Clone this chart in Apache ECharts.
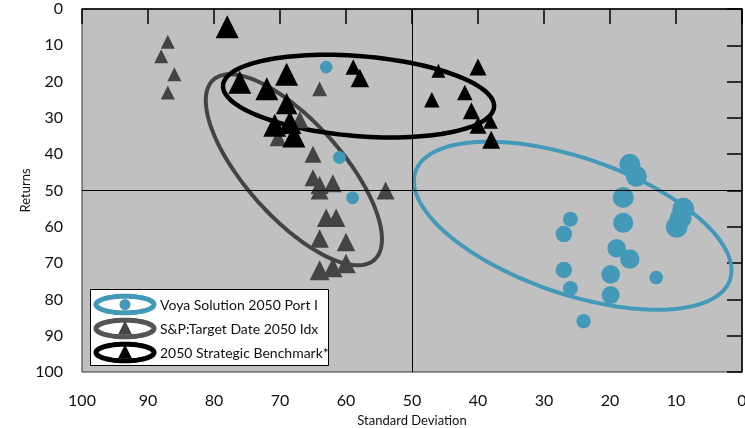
<!DOCTYPE html>
<html><head><meta charset="utf-8">
<script src="https://cdn.jsdelivr.net/npm/echarts@6/dist/echarts.min.js"></script>
<style>html,body{margin:0;padding:0;background:#fff}#c{width:745px;height:428px}</style>
</head><body><div id="c"></div>
<script>
// Series names (legend text)
const seriesNames = ['Voya Solution 2050 Port I', 'S&P:Target Date 2050 Idx', '2050 Strategic Benchmark*'];
const xAxisName = 'Standard Deviation';
const yAxisName = 'Returns';
const tickValues = [0, 10, 20, 30, 40, 50, 60, 70, 80, 90, 100];

// [standard deviation, returns, relative weight]
const voya = [
  [17.0, 42.8, 4], [16.0, 46.1, 4], [18.0, 51.9, 4], [18.0, 58.9, 3.7],
  [8.9, 55.0, 4.2], [9.3, 57.6, 4.2], [9.9, 60.0, 4.2],
  [26.0, 57.9, 2], [27.0, 62.0, 2.5], [19.0, 65.9, 3.2], [17.0, 68.9, 3.5],
  [27.0, 71.9, 2.5], [19.9, 73.1, 3.2], [13.0, 74.0, 1.5], [26.0, 77.0, 2],
  [19.9, 78.8, 3], [24.0, 86.0, 1.8],
  [63.0, 16.0, 1.2], [61.0, 40.9, 1.3], [59.0, 52.0, 1.3]
];
const spIdx = [
  [87, 9, 1], [88, 13, 1], [86, 18, 1], [87, 23, 1],
  [64, 22, 1.3], [67, 30.5, 2], [70.3, 35.5, 2],
  [65, 40, 2], [65, 46.5, 2], [64, 48.5, 2.3], [62, 48, 2.3], [64, 50, 2.3],
  [54, 50, 2.3], [63, 57.5, 2.5], [61.5, 57.5, 2.5],
  [64, 63.2, 2.5], [60, 64.2, 2.5],
  [64, 72, 3], [62, 71.2, 2.8], [60, 70.1, 2.8]
];
const bench = [
  [78, 4.9, 4], [76.1, 20.2, 4], [69, 18, 4], [72, 22, 4], [69, 26, 3.5],
  [70.8, 32, 4], [68.5, 31.3, 4], [67.9, 35, 4],
  [58.9, 16, 1.5], [57.9, 19, 2.5], [46, 17, 1], [40, 16, 2],
  [47, 25, 1.5], [42, 23, 1.5], [41, 28, 2], [40, 32, 2], [38.1, 31, 1.2], [38, 36, 2.3]
];
// Group ellipses: [center x, center y, semi-axis a (x units), semi-axis b (x units), screen angle deg]
const voyaEllipse = [[25.65, 59.7, 25.2, 10.3, 19]];
const spEllipse = [[67.9, 44.3, 18.3, 7.27, 48.2]];
const benchEllipse = [[58.1, 24.0, 20.6, 6.06, 4.6]];

const TEAL = '#4499b9', GRAY = '#444444', BLACK = '#000000';
const FONT = 'Lato, "Open Sans", sans-serif';

function ellipsePts(cx, cy, a, b, deg, n) {
  const t0 = deg * Math.PI / 180, c = Math.cos(t0), s = Math.sin(t0), pts = [];
  for (let i = 0; i < n; i++) {
    const t = i / n * Math.PI * 2;
    const ex = a * Math.cos(t), ey = b * Math.sin(t);
    pts.push([cx + ex * c - ey * s, cy + ex * s + ey * c]);
  }
  return pts;
}
function ellipseSeries(data, color, width, z) {
  return {
    type: 'custom', data: data, z: z, silent: true,
    renderItem: function (params, api) {
      const c = api.coord([api.value(0), api.value(1)]);
      const a = Math.abs(api.size([api.value(2), 0])[0]);
      const b = Math.abs(api.size([api.value(3), 0])[0]);
      return {
        type: 'polygon',
        shape: { points: ellipsePts(c[0], c[1], a, b, api.value(4), 120) },
        style: { fill: 'none', stroke: color, lineWidth: width }
      };
    }
  };
}

const chart = echarts.init(document.getElementById('c'), null, { renderer: 'canvas' });

const legendRows = [
  { y: 304.5, color: TEAL, mark: 'circle', mcolor: TEAL, ty: 305.5 },
  { y: 328.5, color: '#555555', mark: 'tri', mcolor: GRAY, ty: 329.5 },
  { y: 352.5, color: BLACK, mark: 'tri', mcolor: BLACK, ty: 353.5 }
];
const graphics = [{
  type: 'rect', z: 100, shape: { x: 90.5, y: 289.5, width: 238, height: 76 },
  style: { fill: '#ffffff', stroke: '#000', lineWidth: 1 }
}];
legendRows.forEach(function (r, i) {
  graphics.push({
    type: 'polygon', z: 101, shape: { points: ellipsePts(125, r.y, 29, 8.3, 0, 80) },
    style: { fill: 'none', stroke: r.color, lineWidth: 5 }
  });
  if (r.mark === 'circle') {
    graphics.push({ type: 'circle', z: 102, shape: { cx: 125, cy: r.y, r: 5.5 }, style: { fill: r.mcolor } });
  } else {
    graphics.push({ type: 'polygon', z: 102, shape: { points: [[125, r.y - 8], [132, r.y + 6], [118, r.y + 6]] }, style: { fill: r.mcolor } });
  }
  graphics.push({
    type: 'text', z: 103, x: 160, y: r.ty,
    style: { text: seriesNames[i], fill: '#111', font: '14px ' + FONT, textVerticalAlign: 'middle', verticalAlign: 'middle' }
  });
});

function circleSize(v) { return 9 + 3 * v[2]; }
function triSize(v) { return 11 + 3 * v[2]; }

const axisCommon = {
  type: 'value', min: 0, max: 100, interval: 10, inverse: true,
  axisLine: { show: true, lineStyle: { color: '#000', width: 1.5 } },
  axisTick: { show: true, inside: false, length: 15, lineStyle: { color: '#000', width: 1.5 } },
  splitLine: { show: false },
  nameLocation: 'middle',
  nameMoveOverlap: false,
  nameTextStyle: { fontSize: 13, color: '#111', fontFamily: FONT }
};

chart.setOption({
  animation: false,
  backgroundColor: '#ffffff',
  textStyle: { fontFamily: FONT },
  grid: { left: 82, right: 3, top: 9, bottom: 56, containLabel: false, outerBoundsMode: 'none', show: true, backgroundColor: '#c0c0c0', borderColor: '#333', borderWidth: 1 },
  xAxis: Object.assign({}, axisCommon, {
    name: xAxisName, nameGap: 42,
    axisLabel: { fontSize: 16, color: '#111', margin: 21, fontFamily: FONT }
  }),
  yAxis: Object.assign({}, axisCommon, {
    name: yAxisName, nameGap: 50, nameRotate: 90,
    axisLabel: { fontSize: 16, color: '#111', margin: 19, fontFamily: FONT }
  }),
  graphic: graphics,
  series: [
    ellipseSeries(spEllipse, GRAY, 4, 1),
    ellipseSeries(benchEllipse, BLACK, 4.5, 2),
    ellipseSeries(voyaEllipse, TEAL, 4, 2),
    { name: seriesNames[1], type: 'scatter', data: spIdx, symbol: 'triangle', symbolSize: triSize, itemStyle: { color: GRAY, opacity: 1 }, z: 3 },
    { name: seriesNames[0], type: 'scatter', data: voya, symbol: 'circle', symbolSize: circleSize, itemStyle: { color: TEAL, opacity: 1 }, z: 4 },
    { name: seriesNames[2], type: 'scatter', data: bench, symbol: 'triangle', symbolSize: triSize, itemStyle: { color: BLACK, opacity: 1 }, z: 5 },
    {
      type: 'scatter', data: [], z: 6,
      markLine: {
        silent: true, symbol: 'none', label: { show: false },
        lineStyle: { color: '#000', width: 1, type: 'solid' },
        data: [{ xAxis: 50 }, { yAxis: 50 }]
      }
    }
  ]
});
</script>
</body></html>
